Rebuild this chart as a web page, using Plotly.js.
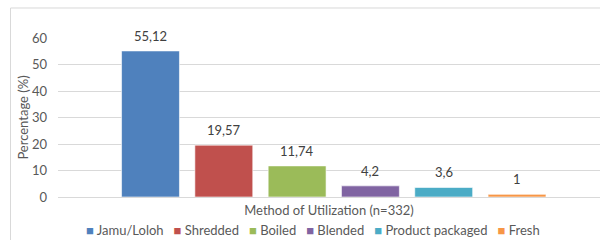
<!DOCTYPE html>
<html>
<head>
<meta charset="utf-8">
<script src="https://cdn.plot.ly/plotly-3.0.1.min.js"></script>
<style>html,body{margin:0;padding:0;background:#fff;} #chart{width:600px;height:240px;}</style>
</head>
<body>
<div id="chart"></div>
<script>
var categories = ["Jamu/Loloh", "Shredded", "Boiled", "Blended", "Product packaged", "Fresh"];
var values = [55.12, 19.57, 11.74, 4.2, 3.6, 1];
var valueLabels = ["55,12", "19,57", "11,74", "4,2", "3,6", "1"];
var colors = ["#4F81BD", "#C0504D", "#9BBB59", "#8064A2", "#4BACC6", "#F79646"];
var yTicks = [0, 10, 20, 30, 40, 50, 60];

var FONT = "Lato, 'Liberation Sans', sans-serif";
var traces = categories.map(function (c, i) {
  return {
    type: "bar",
    name: c,
    x: [c],
    y: [values[i]],
    width: 0.79,
    marker: { color: colors[i], line: { color: "rgba(255,255,255,0.6)", width: 1 } },
    showlegend: false,
    hoverinfo: "skip"
  };
});

var annotations = categories.map(function (c, i) {
  return {
    x: c, y: values[i], xref: "x", yref: "y",
    text: valueLabels[i], showarrow: false,
    yanchor: "bottom", yshift: 5,
    font: { family: FONT, size: 13, color: "#404040" }
  };
});

var legendText = categories.map(function (c, i) {
  return '<span style="color:' + colors[i] + '">■</span>\u00a0' + c;
}).join("\u00a0\u00a0\u00a0");
annotations.push({
  xref: "paper", yref: "paper", x: 0.4714, y: -0.206,
  xanchor: "center", yanchor: "middle", showarrow: false, borderpad: 0,
  text: legendText,
  font: { family: FONT, size: 13, color: "#595959" }
});

var layout = {
  width: 600, height: 240,
  margin: { l: 58, r: 0, t: 38, b: 43 },
  paper_bgcolor: "#ffffff", plot_bgcolor: "#ffffff",
  barmode: "overlay",
  showlegend: false,
  font: { family: FONT, size: 13, color: "#595959" },
  xaxis: {
    type: "category",
    range: [-1.262, 6.132],
    showticklabels: false,
    showgrid: false, zeroline: false, showline: false,
    title: { text: "Method of Utilization (n=332)", standoff: 8, font: { family: FONT, size: 13, color: "#595959" } },
    fixedrange: true
  },
  yaxis: {
    range: [0, 60],
    tickvals: yTicks,
    ticktext: yTicks.map(String),
    showgrid: true, gridcolor: "#D9D9D9", gridwidth: 1,
    zeroline: true, zerolinecolor: "#D9D9D9", zerolinewidth: 1,
    showline: false, ticks: "",
    ticklabelstandoff: 10,
    tickfont: { family: FONT, size: 13, color: "#595959" },
    title: { text: "Percentage (%)", standoff: 0, font: { family: FONT, size: 13, color: "#595959" } },
    fixedrange: true
  },
  annotations: annotations,
  shapes: [
    { type: "line", xref: "paper", yref: "paper", x0: -0.0876, x1: -0.0876, y0: -0.35, y1: 1.1887, line: { color: "#D9D9D9", width: 1 } },
    { type: "line", xref: "paper", yref: "paper", x0: -0.0876, x1: 1.05, y0: 1.1887, y1: 1.1887, line: { color: "#D9D9D9", width: 1 } }
  ]
};

Plotly.newPlot("chart", traces, layout, { staticPlot: true, displayModeBar: false });
</script>
</body>
</html>
